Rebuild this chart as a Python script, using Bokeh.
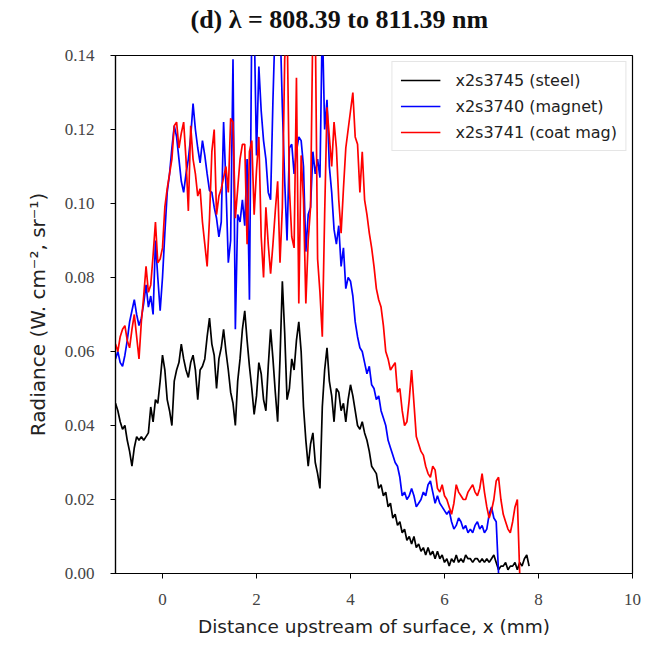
from bokeh.plotting import figure
from bokeh.models import Range1d, FixedTicker, PrintfTickFormatter, Legend, LegendItem, Title
from bokeh.embed import file_html
from bokeh.resources import INLINE

# ---------------- data ----------------
x_start = -1.0
x_step = 0.05

steel = [
    0.046, 0.044, 0.041, 0.039, 0.040, 0.036, 0.033, 0.029, 0.034, 0.037,
    0.036, 0.037, 0.036, 0.037, 0.038, 0.045, 0.041, 0.047, 0.046, 0.052,
    0.059, 0.055, 0.047, 0.044, 0.040, 0.052, 0.055, 0.057, 0.062, 0.058,
    0.055, 0.053, 0.057, 0.059, 0.055, 0.047, 0.055, 0.056, 0.058, 0.064,
    0.069, 0.062, 0.059, 0.050, 0.058, 0.061, 0.066, 0.060, 0.055, 0.049,
    0.046, 0.040, 0.052, 0.058, 0.066, 0.071, 0.063, 0.056, 0.050, 0.043,
    0.048, 0.057, 0.054, 0.047, 0.044, 0.056, 0.066, 0.058, 0.049, 0.041,
    0.058, 0.079, 0.065, 0.047, 0.050, 0.058, 0.055, 0.063, 0.068, 0.060,
    0.045, 0.036, 0.029, 0.035, 0.038, 0.030, 0.027, 0.023, 0.045, 0.055,
    0.061, 0.052, 0.048, 0.041, 0.050, 0.049, 0.044, 0.046, 0.041, 0.047,
    0.051, 0.048, 0.044, 0.040, 0.039, 0.041, 0.038, 0.036, 0.033, 0.029,
    0.028, 0.027, 0.023, 0.024, 0.021, 0.022, 0.018, 0.019, 0.015, 0.016,
    0.013, 0.014, 0.011, 0.012, 0.009, 0.010, 0.008, 0.010, 0.007, 0.008,
    0.006, 0.007, 0.005, 0.007, 0.005, 0.006, 0.004, 0.006, 0.004, 0.005,
    0.003, 0.004, 0.002, 0.004, 0.003, 0.005, 0.003, 0.004, 0.003, 0.005,
    0.004, 0.004, 0.003, 0.004, 0.004, 0.003, 0.004, 0.003, 0.004, 0.003,
    0.004, 0.005, 0.003, 0.001, 0.002, 0.002, 0.003, 0.001, 0.002, 0.002,
    0.003, 0.001, 0.003, 0.002, 0.004, 0.005, 0.002,
]

magnet = [
    0.058, 0.060, 0.057, 0.056, 0.059, 0.063, 0.068, 0.071, 0.074, 0.070,
    0.067, 0.069, 0.073, 0.078, 0.072, 0.075, 0.070, 0.090, 0.080, 0.071,
    0.080, 0.092, 0.103, 0.108, 0.115, 0.121, 0.118, 0.112, 0.106, 0.103,
    0.108, 0.112, 0.118, 0.127, 0.120, 0.115, 0.111, 0.117, 0.113, 0.108,
    0.1035, 0.103, 0.099, 0.096, 0.091, 0.095, 0.122, 0.105, 0.084, 0.090,
    0.139, 0.066, 0.097, 0.095, 0.101, 0.094, 0.112, 0.074, 0.150, 0.150,
    0.113, 0.137, 0.125, 0.117, 0.112, 0.103, 0.101, 0.128, 0.150, 0.150,
    0.150, 0.126, 0.106, 0.090, 0.115, 0.116, 0.108, 0.114, 0.118, 0.117,
    0.110, 0.087, 0.097, 0.099, 0.114, 0.108, 0.112, 0.107, 0.150, 0.120,
    0.128, 0.110, 0.103, 0.093, 0.089, 0.094, 0.083, 0.088, 0.077, 0.080,
    0.079, 0.075, 0.068, 0.064, 0.061, 0.060, 0.057, 0.054, 0.056, 0.051,
    0.050, 0.047, 0.048, 0.044, 0.042, 0.040, 0.036, 0.034, 0.032, 0.030,
    0.029, 0.026, 0.021, 0.022, 0.020, 0.021, 0.023, 0.021, 0.018, 0.019,
    0.020, 0.022, 0.021, 0.024, 0.025, 0.022, 0.019, 0.021, 0.019, 0.018,
    0.017, 0.016, 0.017, 0.014, 0.012, 0.013, 0.015, 0.014, 0.012, 0.013,
    0.011, 0.012, 0.011, 0.013, 0.014, 0.012, 0.013, 0.011, 0.012, 0.016,
    0.018, 0.015, 0.014, 0.000,
]

coat_mag = [
    0.062, 0.060, 0.064, 0.066, 0.067, 0.063, 0.061, 0.066, 0.070, 0.064,
    0.058, 0.068, 0.075, 0.083, 0.076, 0.078, 0.086, 0.095, 0.084, 0.085,
    0.088, 0.099, 0.104, 0.108, 0.112, 0.121, 0.122, 0.115, 0.119, 0.122,
    0.112, 0.098, 0.121, 0.112, 0.108, 0.102, 0.104, 0.095, 0.089, 0.083,
    0.096, 0.114, 0.120, 0.097, 0.102, 0.104, 0.107, 0.110, 0.103, 0.123,
    0.122, 0.096, 0.104, 0.112, 0.116, 0.116, 0.089, 0.114, 0.117, 0.097,
    0.109, 0.118, 0.091, 0.080, 0.099, 0.089, 0.081, 0.089, 0.098, 0.106,
    0.084, 0.099, 0.139, 0.150, 0.104, 0.091, 0.088, 0.134, 0.073, 0.113,
    0.101, 0.073, 0.090, 0.099, 0.150, 0.150, 0.085, 0.076, 0.064, 0.097,
    0.126, 0.118, 0.110, 0.122, 0.115, 0.101, 0.092, 0.104, 0.115, 0.120,
    0.125, 0.130, 0.118, 0.116, 0.103, 0.114, 0.101, 0.097, 0.092, 0.088,
    0.083, 0.077, 0.074, 0.072, 0.067, 0.060, 0.058, 0.055, 0.056, 0.057,
    0.049, 0.050, 0.044, 0.040, 0.041, 0.047, 0.055, 0.046, 0.037, 0.035,
    0.033, 0.032, 0.029, 0.027, 0.026, 0.029, 0.028, 0.023, 0.022, 0.024,
    0.021, 0.020, 0.018, 0.016, 0.019, 0.024, 0.022, 0.021, 0.020, 0.020,
    0.022, 0.023, 0.024, 0.022, 0.021, 0.023, 0.027, 0.022, 0.018, 0.015,
    0.017, 0.020, 0.025, 0.026, 0.020, 0.016, 0.014, 0.012, 0.011, 0.014,
    0.018, 0.020, 0.000,
]

series_labels = ["x2s3745 (steel)", "x2s3740 (magnet)", "x2s3741 (coat mag)"]
series_colors = ["#000000", "#0000ff", "#ff0000"]
x_ticks = [0, 2, 4, 6, 8, 10]
y_ticks = [0.00, 0.02, 0.04, 0.06, 0.08, 0.10, 0.12, 0.14]
title_text = "(d) λ = 808.39 to 811.39 nm"


def xs_for(values):
    return [round(x_start + x_step * i, 3) for i in range(len(values))]


p = figure(
    width=672, height=645,
    output_backend="svg", toolbar_location=None,
    x_range=Range1d(-1, 10), y_range=Range1d(0, 0.14),
    min_border_left=115, min_border_right=40,
    min_border_top=55, min_border_bottom=72,
)
p.title = None
# thin spacer panel next to the frame, then the real title above it
p.add_layout(Title(text=" ", text_font_size="2px", standoff=18), "above")
p.add_layout(Title(text=title_text,
                   text_font="Liberation Serif", text_font_size="26px",
                   text_font_style="bold", text_color="#111111",
                   align="left", offset=75, standoff=0), "above")

renderers = []
for vals, col in zip([steel, magnet, coat_mag], series_colors):
    r = p.line(xs_for(vals), vals, line_color=col, line_width=1.7)
    renderers.append(r)

legend = Legend(items=[LegendItem(label=lab, renderers=[r])
                       for lab, r in zip(series_labels, renderers)],
                location="top_right")
legend.label_text_font = "DejaVu Sans"
legend.label_text_font_size = "16px"
legend.label_text_color = "#222222"
legend.glyph_width = 40
legend.glyph_height = 20
legend.label_height = 20
legend.label_standoff = 15
legend.spacing = 6
legend.padding = 8
legend.margin = 6
legend.border_line_color = "#cccccc"
legend.border_line_width = 1
legend.background_fill_alpha = 1.0
p.add_layout(legend)

p.grid.visible = False
p.outline_line_color = "black"
p.outline_line_width = 1.2
p.background_fill_color = "white"
p.border_fill_color = "white"

p.xaxis.ticker = FixedTicker(ticks=x_ticks)
p.yaxis.ticker = FixedTicker(ticks=y_ticks)
p.yaxis.formatter = PrintfTickFormatter(format="%.2f")
p.xaxis.formatter = PrintfTickFormatter(format="%d")

for ax in (p.xaxis, p.yaxis):
    ax.axis_line_color = "black"
    ax.axis_line_width = 1.2
    ax.major_tick_line_color = "black"
    ax.major_tick_out = 5
    ax.major_tick_in = 0
    ax.minor_tick_line_color = None
    ax.major_label_text_font = "Liberation Serif"
    ax.major_label_text_font_size = "17px"
    ax.major_label_text_color = "#444444"
    ax.axis_label_text_font = "DejaVu Sans"
    ax.axis_label_text_font_style = "normal"
    ax.axis_label_text_color = "#222222"

p.xaxis.axis_label_text_font_size = "18.5px"
p.yaxis.axis_label_text_font_size = "20px"
p.xaxis.axis_label = "Distance upstream of surface, x (mm)"
p.yaxis.axis_label = "Radiance (W. cm⁻², sr⁻¹)"
p.xaxis.major_label_standoff = 15
p.yaxis.major_label_standoff = 16
p.xaxis.axis_label_standoff = 8
p.yaxis.axis_label_standoff = 12

open("out.html", "w").write(file_html(p, INLINE))
